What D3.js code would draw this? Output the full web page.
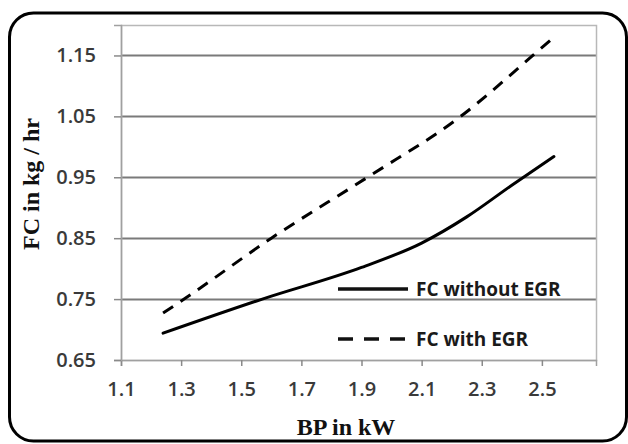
<!DOCTYPE html>
<meta charset="utf-8">
<style>
  body { margin: 0; padding: 0; background: #fff; }
  .tick text { font-family: 'Open Sans', sans-serif; font-weight: 600; fill: #3a3a3a; }
  .title { font-family: 'Liberation Serif', 'Times New Roman', serif; font-weight: bold; fill: #111; }
  .legend text { font-family: 'Open Sans', sans-serif; font-weight: 700; fill: #1a1a1a; }
</style>
<body>
<svg class="chart"></svg>
<script src="https://d3js.org/d3.v7.min.js"></script>
<script>

var bpWithout = [1.24, 1.57, 1.90, 2.10, 2.25, 2.40, 2.54];
var fcWithout = [0.694, 0.75, 0.802, 0.842, 0.885, 0.937, 0.984];

var bpWith = [1.24, 1.31, 1.60, 1.92, 2.23, 2.47, 2.54];
var fcWith = [0.727, 0.75, 0.85, 0.95, 1.05, 1.15, 1.18];

var xTicks = [1.1, 1.3, 1.5, 1.7, 1.9, 2.1, 2.3, 2.5];
var yTicks = [0.65, 0.75, 0.85, 0.95, 1.05, 1.15];

var seriesNames = ["FC without EGR", "FC with EGR"];

var width = 628, height = 444;
var plot = {left: 121, right: 596, top: 25, bottom: 360};

var svg = d3.select(".chart")
    .attr("width", width)
    .attr("height", height);

// rounded frame round the whole figure
svg.append("rect")
    .attr("x", 9.5).attr("y", 13)
    .attr("width", 617).attr("height", 428)
    .attr("rx", 24).attr("ry", 24)
    .attr("fill", "#fff")
    .attr("stroke", "#000")
    .attr("stroke-width", 3);

var x = d3.scaleLinear()
    .domain([1.1, 2.68])
    .range([plot.left, plot.right]);

var y = d3.scaleLinear()
    .domain([0.65, 1.2])
    .range([plot.bottom, plot.top]);

// gridlines
svg.append("g")
    .selectAll("line")
    .data(yTicks.slice(1))
  .enter().append("line")
    .attr("x1", plot.left).attr("x2", plot.right)
    .attr("y1", function(d) { return Math.round(y(d)) + 0.5; })
    .attr("y2", function(d) { return Math.round(y(d)) + 0.5; })
    .attr("stroke", "#7a7a7a")
    .attr("stroke-width", 2);

// plot border
svg.append("rect")
    .attr("x", plot.left + 0.5).attr("y", plot.top + 0.5)
    .attr("width", plot.right - plot.left).attr("height", plot.bottom - plot.top)
    .attr("fill", "none")
    .attr("stroke", "#b8b8b8")
    .attr("stroke-width", 1.5);

var xAxis = d3.axisBottom(x)
    .tickValues(xTicks)
    .tickFormat(d3.format(".1f"))
    .tickSize(6)
    .tickPadding(16);

var yAxis = d3.axisLeft(y)
    .tickValues(yTicks)
    .tickFormat(d3.format(".2f"))
    .tickSize(7)
    .tickPadding(18);

var gx = svg.append("g")
    .attr("transform", "translate(0," + plot.bottom + ")")
    .call(xAxis);
gx.select(".domain").attr("stroke", "#a0a0a0").attr("stroke-width", 1.5);
gx.selectAll(".tick line").attr("stroke", "#8a8a8a").attr("stroke-width", 1.5);
gx.selectAll(".tick text").style("font-size", "20px");

var gy = svg.append("g")
    .attr("transform", "translate(" + plot.left + ",0)")
    .call(yAxis);
gy.select(".domain").attr("stroke", "#a0a0a0").attr("stroke-width", 1.5);
gy.selectAll(".tick line").attr("stroke", "#8a8a8a").attr("stroke-width", 1.5);
gy.selectAll(".tick text").style("font-size", "20px");

// axis titles
svg.append("text")
    .attr("class", "title")
    .attr("x", 346).attr("y", 435)
    .attr("text-anchor", "middle")
    .style("font-size", "24px")
    .text("BP in kW");

svg.append("text")
    .attr("class", "title")
    .attr("transform", "translate(39,184) rotate(-90)")
    .attr("text-anchor", "middle")
    .style("font-size", "24px")
    .text("FC in kg / hr");

var line = d3.line()
    .x(function(d) { return x(d[0]); })
    .y(function(d) { return y(d[1]); })
    .curve(d3.curveMonotoneX);

var dataWithout = d3.zip(bpWithout, fcWithout);
var dataWith = d3.zip(bpWith, fcWith);

svg.append("path")
    .datum(dataWithout)
    .attr("d", line)
    .attr("fill", "none")
    .attr("stroke", "#000")
    .attr("stroke-width", 3)
    .attr("stroke-linecap", "round");

svg.append("path")
    .datum(dataWith)
    .attr("d", line)
    .attr("fill", "none")
    .attr("stroke", "#000")
    .attr("stroke-width", 3)
    .attr("stroke-dasharray", "12,9");

// legend
var legend = svg.append("g").attr("class", "legend");
var legendY = [289, 339];
var legendDash = [null, "15,11"];

seriesNames.forEach(function(name, i) {
    legend.append("line")
        .attr("x1", 338).attr("x2", 408)
        .attr("y1", legendY[i]).attr("y2", legendY[i])
        .attr("stroke", "#111")
        .attr("stroke-width", 3.5)
        .attr("stroke-dasharray", legendDash[i]);
    legend.append("text")
        .attr("x", 416)
        .attr("y", legendY[i] + 7)
        .style("font-size", "19px")
        .text(name);
});

</script>
</body>
